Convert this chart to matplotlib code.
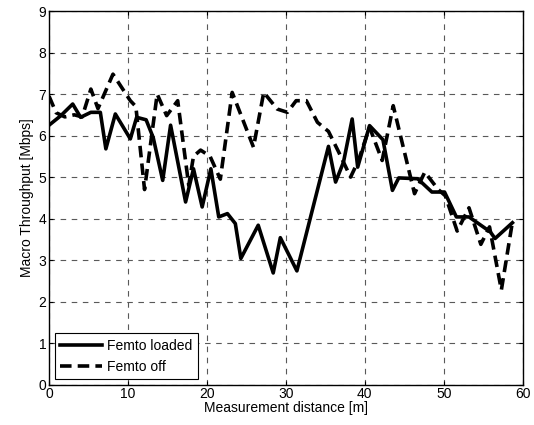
import numpy as np
import matplotlib
matplotlib.use("Agg")
import matplotlib.pyplot as plt

plt.rcParams['font.family'] = ['Liberation Sans', 'DejaVu Sans']

# Femto loaded (solid)
loaded_x = [0, 1.5, 3.0, 4.0, 5.3, 6.5, 7.2, 8.4, 10.3, 11.1, 12.3, 13.2, 14.4, 15.4,
            17.3, 18.3, 19.4, 20.5, 21.5, 22.6, 23.6, 24.3, 26.5, 28.4, 29.3, 31.4,
            35.4, 36.3, 37.3, 38.4, 39.1, 40.6, 42.3, 43.5, 44.3, 46.7, 48.5, 50.1,
            51.6, 53.2, 54.7, 55.9, 56.5, 58.7]
loaded_y = [6.25, 6.48, 6.76, 6.44, 6.56, 6.56, 5.68, 6.52, 5.92, 6.44, 6.38, 5.95, 4.92, 6.25,
            4.4, 5.2, 4.28, 5.2, 4.04, 4.12, 3.88, 3.04, 3.84, 2.69, 3.54, 2.74,
            5.74, 4.88, 5.36, 6.4, 5.24, 6.24, 5.9, 4.68, 4.98, 4.96, 4.64, 4.64,
            4.04, 4.04, 3.84, 3.68, 3.52, 3.9]

# Femto off (dashed)
off_x = [0, 0.9, 2.0, 3.2, 4.2, 5.3, 6.2, 8.1, 10.3, 11.0, 12.1, 13.7, 14.9, 16.3,
         17.7, 18.3, 19.2, 20.4, 21.7, 23.2, 25.9, 27.2, 28.9, 30.2, 31.3, 32.6,
         34.0, 35.4, 36.7, 38.2, 39.2, 40.6, 42.2, 43.6, 46.3, 47.6, 49.3, 50.2,
         51.7, 53.2, 54.7, 55.8, 57.3, 58.7]
off_y = [6.95, 6.55, 6.45, 6.5, 6.45, 7.12, 6.65, 7.48, 6.84, 6.7, 4.7, 7.0, 6.48, 6.84,
         4.8, 5.5, 5.65, 5.5, 4.95, 7.04, 5.72, 7.04, 6.64, 6.56, 6.84, 6.84,
         6.32, 6.1, 5.6, 5.0, 5.4, 6.2, 5.4, 6.72, 4.6, 5.12, 4.7, 4.55,
         3.7, 4.26, 3.38, 3.8, 2.28, 3.92]

fig = plt.figure(figsize=(5.34, 4.25), dpi=100)
ax = fig.add_axes([0.0918, 0.095, 0.887, 0.879])

ax.plot(loaded_x, loaded_y, color='black', lw=2.6, label='Femto loaded')
ax.plot(off_x, off_y, color='black', lw=2.6, ls=(0, (3.2, 1.7)), label='Femto off')

ax.set_xlim(0, 60)
ax.set_ylim(0, 9)
ax.set_xticks(np.arange(0, 61, 10))
ax.set_yticks(np.arange(0, 10, 1))
ax.grid(True, color='0.35', ls=(0, (5, 5)), lw=0.8)
ax.tick_params(direction='in', length=3, labelsize=10, top=True, right=True, pad=2)
for s in ax.spines.values():
    s.set_linewidth(1.0)

ax.set_xlabel('Measurement distance [m]', fontsize=10, labelpad=0)
ax.set_ylabel('Macro Throughput [Mbps]', fontsize=10, labelpad=3)

leg = ax.legend(loc='lower left', fontsize=10, fancybox=False, framealpha=1,
                edgecolor='black', handlelength=3.0, borderaxespad=0.4,
                handletextpad=0.4, labelspacing=0.5)
leg.get_frame().set_linewidth(0.8)

fig.savefig('out.png', dpi=100)
